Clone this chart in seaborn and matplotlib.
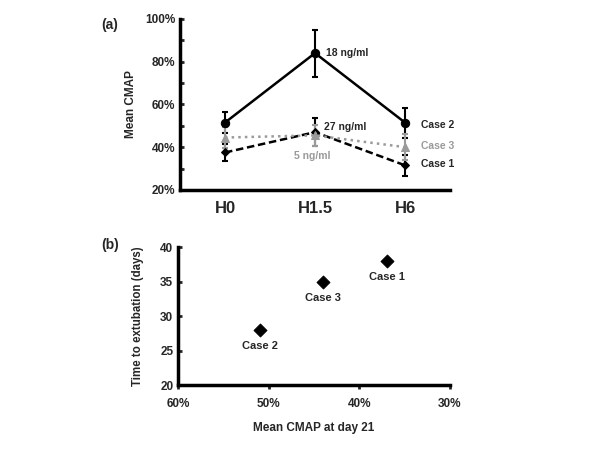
import numpy as np
import pandas as pd
import matplotlib
matplotlib.use("Agg")
import matplotlib.pyplot as plt
import seaborn as sns
from matplotlib.ticker import FuncFormatter, MultipleLocator, FixedLocator

# panel (a) data
timepoints = ["H0", "H1.5", "H6"]
case1_cmap = [37.5, 47, 31.5]
case1_err = [4, 6.5, 5]
case2_cmap = [51.5, 84, 51.5]
case2_err = [5, 11, 7]
case3_cmap = [44.5, 45.5, 40]
case3_err = [5, 5, 6]

# panel (b) data
cases = ["Case 1", "Case 2", "Case 3"]
cmap_day21 = [37, 51, 44]
extubation_days = [38, 28, 35]

GRAY = "#9a9a9a"

sns.set_style("white")
plt.rcParams["font.family"] = ["Liberation Sans", "DejaVu Sans"]
plt.rcParams["font.weight"] = "bold"

fig = plt.figure(figsize=(6, 4.5), dpi=100)
ax1 = fig.add_axes([0.3, 0.578, 0.45, 0.38])
ax2 = fig.add_axes([0.297, 0.144, 0.453, 0.307])

# -----------------------------------
# Panel (a)
# -----------------------------------
xpos = np.arange(len(timepoints))
series = [
    ("Case 2", case2_cmap, case2_err, "black", "-", "o", 6),
    ("Case 1", case1_cmap, case1_err, "black", (0, (3, 1.5)), "D", 4),
    ("Case 3", case3_cmap, case3_err, GRAY, ":", "^", 6),
]
for name, vals, errs, col, ls, mk, ms in series:
    df = pd.DataFrame({"x": xpos, "y": vals})
    ax1.errorbar(xpos, vals, yerr=errs, fmt="none", ecolor=col,
                 elinewidth=1.5, capsize=2.5, capthick=1.5, zorder=2)
    sns.lineplot(data=df, x="x", y="y", ax=ax1, color=col, linestyle=ls,
                 marker=mk, markersize=ms, markeredgecolor=col,
                 linewidth=1.8, zorder=3)

ax1.set_xlim(-0.5, 2.5)
ax1.set_ylim(20, 100)
ax1.set_xticks(xpos)
ax1.set_xticklabels(timepoints, fontsize=12, fontweight="bold")
ax1.xaxis.set_minor_locator(FixedLocator([-0.5, 0.5, 1.5, 2.5]))
ax1.tick_params(axis="x", which="major", length=0, pad=8)
ax1.tick_params(axis="x", which="minor", length=3, width=2, direction="out")
ax1.yaxis.set_major_locator(MultipleLocator(20))
ax1.yaxis.set_minor_locator(MultipleLocator(10))
ax1.yaxis.set_major_formatter(FuncFormatter(lambda v, p: f"{v:.0f}%"))
ax1.tick_params(axis="y", which="both", length=3, width=2, direction="in",
                labelsize=8.5, left=True)
ax1.set_xlabel("")
ax1.set_ylabel("Mean CMAP", fontsize=8.5, fontweight="bold", labelpad=6)

ax1.text(1.12, 84, "18 ng/ml", fontsize=7.5, fontweight="bold", va="center")
ax1.text(1.1, 49.5, "27 ng/ml", fontsize=7.5, fontweight="bold", va="center")
ax1.text(0.97, 36, "5 ng/ml", fontsize=7.5, fontweight="bold", va="center",
         ha="center", color=GRAY)
ax1.text(2.18, 50.5, "Case 2", fontsize=7.5, fontweight="bold", va="center")
ax1.text(2.18, 40.5, "Case 3", fontsize=7.5, fontweight="bold", va="center",
         color=GRAY)
ax1.text(2.18, 32, "Case 1", fontsize=7.5, fontweight="bold", va="center")

# -----------------------------------
# Panel (b)
# -----------------------------------
df_b = pd.DataFrame({"case": cases, "cmap": cmap_day21, "days": extubation_days})
sns.scatterplot(data=df_b, x="cmap", y="days", ax=ax2, marker="D", s=45,
                color="black", edgecolor="black", zorder=3)
for _, row in df_b.iterrows():
    ax2.text(row["cmap"], row["days"] - 1.6, row["case"], fontsize=8,
             fontweight="bold", ha="center", va="top")

ax2.set_xlim(60, 30)
ax2.set_ylim(20, 40)
ax2.xaxis.set_major_locator(MultipleLocator(10))
ax2.xaxis.set_major_formatter(FuncFormatter(lambda v, p: f"{v:.0f}%"))
ax2.yaxis.set_major_locator(MultipleLocator(5))
ax2.tick_params(axis="x", length=3, width=2, direction="out", labelsize=8.5,
                bottom=True, pad=6)
ax2.tick_params(axis="y", length=3, width=2, direction="in", labelsize=8.5,
                left=True)
ax2.set_xlabel("Mean CMAP at day 21", fontsize=8.5, fontweight="bold",
               labelpad=9)
ax2.set_ylabel("Time to extubation (days)", fontsize=8.3, fontweight="bold",
               labelpad=12)

for ax in (ax1, ax2):
    sns.despine(ax=ax)
    for side in ("left", "bottom"):
        ax.spines[side].set_linewidth(2.5)
        ax.spines[side].set_color("black")
    for lbl in ax.get_xticklabels() + ax.get_yticklabels():
        lbl.set_fontweight("bold")

fig.text(0.168, 0.945, "(a)", fontsize=10, fontweight="bold", ha="left", va="center")
fig.text(0.168, 0.455, "(b)", fontsize=10, fontweight="bold", ha="left", va="center")

fig.savefig("out.png", dpi=100)
